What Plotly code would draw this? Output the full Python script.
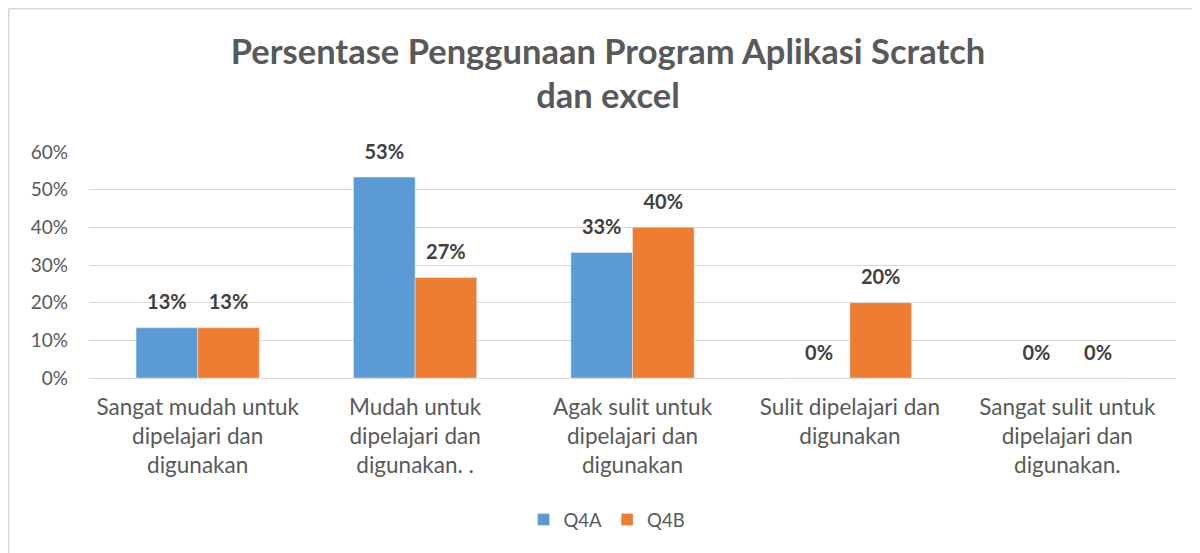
import plotly.graph_objects as go

categories = [
    "Sangat mudah untuk<br>dipelajari dan<br>digunakan",
    "Mudah untuk<br>dipelajari dan<br>digunakan. .",
    "Agak sulit untuk<br>dipelajari dan<br>digunakan",
    "Sulit dipelajari dan<br>digunakan",
    "Sangat sulit untuk<br>dipelajari dan<br>digunakan.",
]
series_names = ["Q4A", "Q4B"]
q4a = [0.1333, 0.5333, 0.3333, 0.0, 0.0]
q4b = [0.1333, 0.2667, 0.40, 0.20, 0.0]
colors = ["#5B9BD5", "#ED7D31"]
y_ticks = [0, 0.1, 0.2, 0.3, 0.4, 0.5, 0.6]

FONT = "Lato"
GRAY = "#595959"
GAP = 0.433

fig = go.Figure()
for name, vals, col in zip(series_names, [q4a, q4b], colors):
    fig.add_trace(go.Bar(
        name=name, x=categories, y=vals, marker_color=col,
        offsetgroup=name, hoverinfo="x+y",
    ))
# data labels, grouped the same way as the bars
for name, vals in zip(series_names, [q4a, q4b]):
    fig.add_trace(go.Scatter(
        x=categories, y=vals, mode="markers+text", offsetgroup=name,
        text=[f"{v:.0%}" for v in vals], textposition="top center",
        marker=dict(size=20, color="rgba(0,0,0,0)"),
        textfont=dict(family=FONT, size=20, color="#404040", weight="bold"),
        showlegend=False, hoverinfo="skip", cliponaxis=False,
    ))

L, T = 81, 144
PW, PH = 1087, 226
fig.update_layout(
    width=1200, height=553,
    paper_bgcolor="white", plot_bgcolor="white",
    barmode="group", bargap=GAP, bargroupgap=0,
    scattermode="group", scattergap=GAP,
    margin=dict(l=L, r=1200 - L - PW, t=T, b=553 - T - PH),
    title=dict(
        text="Persentase Penggunaan Program Aplikasi Scratch<br>dan excel",
        x=0.5, xanchor="center", y=0.8995, yanchor="top",
        font=dict(family=FONT, size=34.5, color=GRAY, weight="bold"),
    ),
    font=dict(family=FONT, color=GRAY),
    showlegend=True,
    legend=dict(
        orientation="h", x=0.4766, xanchor="center", y=-0.628, yanchor="middle",
        font=dict(family=FONT, size=18.5, color=GRAY),
        itemwidth=30,
    ),
)
fig.update_yaxes(
    range=[0, 0.6], tickvals=y_ticks, tickformat=".0%",
    showgrid=True, gridcolor="#D9D9D9", gridwidth=1,
    zeroline=True, zerolinecolor="#D9D9D9", zerolinewidth=1,
    showline=False, ticks="", ticklabelstandoff=20,
    tickfont=dict(family=FONT, size=19, color=GRAY),
)
fig.update_xaxes(
    showline=False, ticks="", showgrid=False, ticklabelstandoff=13,
    tickfont=dict(family=FONT, size=22.5, color=GRAY), tickangle=0,
)
# chart-area border (left and top edges visible)
fig.add_shape(type="line", xref="paper", yref="paper",
              x0=-(L - 0.5) / PW, x1=-(L - 0.5) / PW, y0=-(553 - T - PH) / PH, y1=1 + (T - 0.5) / PH,
              line=dict(color="#D9D9D9", width=2))
fig.add_shape(type="line", xref="paper", yref="paper",
              x0=-(L - 0.5) / PW, x1=(1200 - L) / PW, y0=1 + (T - 0.5) / PH, y1=1 + (T - 0.5) / PH,
              line=dict(color="#D9D9D9", width=2))

fig.write_html("out.html")
